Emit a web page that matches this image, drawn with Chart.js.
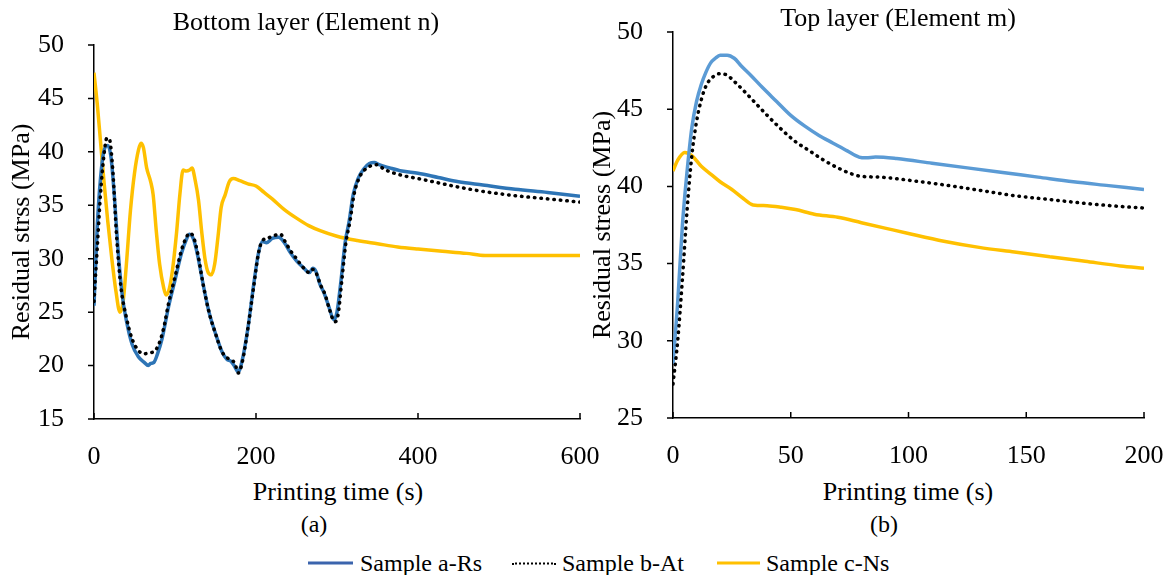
<!DOCTYPE html>
<html>
<head>
<meta charset="utf-8">
<script src="https://cdn.jsdelivr.net/npm/chart.js@4.4.1/dist/chart.umd.min.js"></script>
<style>
  body { margin: 0; background: #fff; font-family: "Liberation Serif", "Times New Roman", serif; color: #000; }
  #page { position: relative; width: 1170px; height: 575px; overflow: hidden; }
  .box { position: absolute; }
  .txt { position: absolute; white-space: nowrap; transform: translate(-50%, -50%); font-size: 26px; }
  .legend { position: absolute; top: 563px; transform: translateY(-50%); display: flex; align-items: center; font-size: 24px; white-space: nowrap; }
  .swatch { display: inline-block; height: 0; margin-right: 7px; }
</style>
</head>
<body>
<div id="page">
  <div class="box" style="left:0;top:0;width:600px;height:470px;"><canvas id="chartA" width="600" height="470"></canvas></div>
  <div class="box" style="left:579px;top:0;width:591px;height:470px;"><canvas id="chartB" width="591" height="470"></canvas></div>

  <div class="txt" style="left:306px;top:22px;">Bottom layer (Element n)</div>
  <div class="txt" style="left:898px;top:18px;">Top layer (Element m)</div>
  <div class="txt" style="left:338px;top:492px;">Printing time (s)</div>
  <div class="txt" style="left:908px;top:492px;">Printing time (s)</div>
  <div class="txt" style="left:314px;top:524px;font-size:24px;">(a)</div>
  <div class="txt" style="left:884px;top:524px;font-size:24px;">(b)</div>

  <div class="legend" style="left:308px;">
    <span class="swatch" style="border-top:3px solid #3B64AD;width:45px;"></span>Sample a-Rs
  </div>
  <div class="legend" style="left:512px;">
    <span class="swatch" style="border-top:2px dotted #000;width:44px;margin-right:6px;"></span>Sample b-At
  </div>
  <div class="legend" style="left:717px;">
    <span class="swatch" style="border-top:3px solid #FFC000;width:43px;margin-right:6px;"></span>Sample c-Ns
  </div>
</div>

<script>
// Bottom layer (Element n), printing time in s, stress in MPa
var bottomTimeA = [0, 4, 8, 12, 17, 21, 25, 30, 35, 40, 47, 55, 62, 67, 70, 74, 78, 84, 92, 100, 108, 114, 118, 123, 128, 135, 142, 150, 158, 164, 169, 173, 178, 183, 190, 197, 203, 208, 213, 220, 228, 235, 243, 250, 258, 266, 270, 274, 279, 284, 290, 296, 300, 305, 310, 315, 320, 326, 333, 340, 346, 352, 365, 380, 400, 425, 450, 480, 520, 560, 600];
var bottomStressA = [25.6, 33, 37.5, 40, 40.6, 39.5, 36, 30.5, 26.5, 24.2, 22, 20.8, 20.3, 20.0, 20.2, 20.3, 21, 22.5, 25.5, 28, 30.5, 31.8, 32.3, 31.8, 30.3, 27.5, 25, 23, 21.3, 20.6, 20.4, 20, 19.4, 20.5, 23.5, 27.5, 30.5, 31.6, 31.5, 31.9, 32, 31.5, 30.5, 29.8, 29.2, 28.7, 29.1, 28.8, 27.6, 26.8, 25.5, 24.3, 25, 28, 31.5, 33.5, 36, 37.5, 38.4, 38.9, 39, 38.8, 38.5, 38.2, 38.0, 37.6, 37.2, 36.9, 36.5, 36.2, 35.85];

var bottomTimeB = [0, 4, 8, 12, 16, 19, 23, 28, 33, 40, 47, 55, 62, 68, 74, 80, 86, 92, 100, 108, 114, 118, 123, 128, 135, 142, 150, 158, 165, 170, 174, 178, 183, 190, 197, 203, 208, 214, 220, 230, 236, 243, 250, 258, 266, 270, 274, 280, 285, 291, 297, 301, 306, 311, 316, 321, 327, 334, 342, 348, 360, 380, 400, 425, 450, 480, 520, 560, 600];
var bottomStressB = [26, 31, 36, 39.5, 41.3, 41.2, 38.5, 32, 27.5, 24.5, 22.5, 21.4, 21.1, 21.2, 21.3, 22, 23.5, 25.8, 28.3, 30.8, 32, 32.4, 32, 30.5, 27.5, 25, 23, 21.3, 20.7, 20.5, 20.2, 19.3, 20.3, 23.5, 27.3, 30.5, 31.7, 31.9, 32.1, 32.3, 31.6, 30.7, 30, 29.2, 28.7, 29, 28.7, 27.5, 26.7, 25.2, 24.1, 24.6, 28, 31.5, 33.5, 36, 37.5, 38.3, 38.7, 38.8, 38.3, 37.8, 37.5, 37.1, 36.7, 36.3, 35.9, 35.6, 35.3];

var bottomTimeC = [0, 4, 8, 12, 17, 22, 27, 32, 36, 40, 45, 50, 55, 58, 61, 65, 70, 73, 77, 81, 86, 89, 93, 97, 102, 106, 110, 114, 118, 121, 125, 129, 133, 137, 141, 145, 149, 153, 157, 162, 167, 172, 180, 190, 200, 210, 220, 235, 250, 265, 280, 300, 325, 350, 375, 400, 430, 460, 483, 520, 560, 600];
var bottomStressC = [47.4, 44.5, 41, 37.5, 33.5, 30, 27, 25, 26, 29.5, 34.5, 38, 40.2, 40.8, 40.4, 38.5, 37.2, 36, 32.5, 29.5, 27.3, 26.6, 27.2, 29, 32.5, 36, 38.3, 38.2, 38.3, 38.5, 37.3, 35.5, 32.5, 30, 28.7, 28.5, 29.5, 32, 34.8, 36, 37.2, 37.5, 37.3, 37.0, 36.8, 36.2, 35.6, 34.6, 33.8, 33.1, 32.6, 32.1, 31.7, 31.4, 31.1, 30.9, 30.7, 30.5, 30.3, 30.3, 30.3, 30.3];

// Top layer (Element m)
var topTimeA = [0, 2, 4, 6, 8, 10, 12, 14, 16, 18, 20, 23, 26, 29, 33, 38, 44, 50, 56, 62, 68, 74, 79, 82, 86, 95, 110, 125, 140, 155, 170, 185, 200];
var topStressA = [28.5, 32.5, 37.5, 41, 43.8, 45.5, 46.6, 47.4, 48, 48.3, 48.5, 48.5, 48.3, 47.8, 47.2, 46.4, 45.5, 44.6, 43.9, 43.3, 42.8, 42.3, 41.9, 41.85, 41.9, 41.8, 41.5, 41.2, 40.9, 40.6, 40.3, 40.05, 39.8];

var topTimeB = [0, 2, 4, 6, 8, 10, 12, 14, 17, 20, 23, 26, 30, 35, 40, 46, 52, 58, 64, 70, 76, 80, 88, 100, 115, 130, 145, 160, 175, 190, 200];
var topStressB = [27.2, 30, 34, 38.5, 42, 44.2, 45.6, 46.5, 47.1, 47.3, 47.2, 46.8, 46.2, 45.4, 44.6, 43.7, 42.9, 42.3, 41.7, 41.2, 40.8, 40.65, 40.6, 40.4, 40.1, 39.75, 39.4, 39.15, 38.9, 38.7, 38.6];

var topTimeC = [0, 2, 5, 8, 12, 16, 20, 25, 30, 34, 40, 46, 52, 60, 70, 80, 90, 100, 115, 130, 145, 160, 175, 190, 200];
var topStressC = [41.0, 41.7, 42.2, 42.0, 41.3, 40.8, 40.3, 39.8, 39.2, 38.8, 38.75, 38.65, 38.5, 38.2, 38.0, 37.65, 37.3, 36.95, 36.45, 36.05, 35.75, 35.45, 35.15, 34.85, 34.7];

var bottomYTicks = [15, 20, 25, 30, 35, 40, 45, 50];
var bottomXTicks = [0, 200, 400, 600];
var topYTicks = [25, 30, 35, 40, 45, 50];
var topXTicks = [0, 50, 100, 150, 200];

var serif = '"Liberation Serif", "Times New Roman", serif';

function pairUp(xs, ys) {
    return xs.map(function (x, i) { return { x: x, y: ys[i] }; });
}

// short tick marks: x ticks point up into the plot, y ticks point left
var tickMarks = {
    id: 'tickMarks',
    afterDraw: function (chart) {
        var ctx = chart.ctx;
        var xs = chart.scales.x, ys = chart.scales.y;
        ctx.save();
        ctx.strokeStyle = '#000';
        ctx.lineWidth = 1.5;
        ctx.beginPath();
        xs.ticks.forEach(function (t) {
            var px = xs.getPixelForValue(t.value);
            ctx.moveTo(px, xs.top);
            ctx.lineTo(px, xs.top - 6);
        });
        ys.ticks.forEach(function (t) {
            var py = ys.getPixelForValue(t.value);
            ctx.moveTo(ys.right - 6, py);
            ctx.lineTo(ys.right, py);
        });
        ctx.stroke();
        ctx.restore();
    }
};

function makeChart(id, cfg) {
    var ctx = document.getElementById(id).getContext('2d');
    return new Chart(ctx, {
        type: 'line',
        data: {
            datasets: [
                {
                    label: 'Sample b-At',
                    data: pairUp(cfg.timeB, cfg.stressB),
                    borderColor: '#000',
                    borderWidth: 3.5,
                    borderDash: [0.5, 6],
                    borderCapStyle: 'round',
                    pointRadius: 0,
                    cubicInterpolationMode: 'monotone',
                    fill: false
                },
                {
                    label: 'Sample a-Rs',
                    data: pairUp(cfg.timeA, cfg.stressA),
                    borderColor: cfg.blue,
                    borderWidth: 3.5,
                    pointRadius: 0,
                    cubicInterpolationMode: 'monotone',
                    fill: false
                },
                {
                    label: 'Sample c-Ns',
                    data: pairUp(cfg.timeC, cfg.stressC),
                    borderColor: '#FFC000',
                    borderWidth: 3.5,
                    pointRadius: 0,
                    cubicInterpolationMode: 'monotone',
                    fill: false
                }
            ]
        },
        options: {
            responsive: false,
            animation: false,
            events: [],
            layout: { padding: { top: cfg.padTop, right: cfg.padRight, left: 0, bottom: 0 } },
            plugins: { legend: { display: false }, tooltip: { enabled: false } },
            scales: {
                x: {
                    type: 'linear',
                    min: cfg.xTicks[0],
                    max: cfg.xTicks[cfg.xTicks.length - 1],
                    afterBuildTicks: function (s) { s.ticks = cfg.xTicks.map(function (v) { return { value: v }; }); },
                    afterFit: function (s) { s.height = cfg.xHeight; s.paddingLeft = 0; s.paddingRight = 0; },
                    grid: { display: false },
                    border: { display: true, color: '#000', width: 1.5 },
                    ticks: { color: '#000', padding: 15, maxRotation: 0, font: { family: serif, size: 26 } }
                },
                y: {
                    type: 'linear',
                    min: cfg.yTicks[0],
                    max: cfg.yTicks[cfg.yTicks.length - 1],
                    afterBuildTicks: function (s) { s.ticks = cfg.yTicks.map(function (v) { return { value: v }; }); },
                    afterFit: function (s) { s.width = 94; s.paddingTop = 0; s.paddingBottom = 0; },
                    grid: { display: false },
                    border: { display: true, color: '#000', width: 1.5 },
                    ticks: { color: '#000', padding: 22, font: { family: serif, size: 26 } },
                    title: {
                        display: true,
                        text: cfg.yTitle,
                        color: '#000',
                        padding: { top: cfg.titlePad, bottom: 0 },
                        font: { family: serif, size: 26 }
                    }
                }
            }
        },
        plugins: [tickMarks]
    });
}

makeChart('chartA', {
    timeA: bottomTimeA, stressA: bottomStressA,
    timeB: bottomTimeB, stressB: bottomStressB,
    timeC: bottomTimeC, stressC: bottomStressC,
    xTicks: bottomXTicks, yTicks: bottomYTicks,
    blue: '#2E75B6',
    yTitle: 'Residual strss (MPa)',
    padTop: 45, padRight: 20, xHeight: 51, titlePad: 7
});

makeChart('chartB', {
    timeA: topTimeA, stressA: topStressA,
    timeB: topTimeB, stressB: topStressB,
    timeC: topTimeC, stressC: topStressC,
    xTicks: topXTicks, yTicks: topYTicks,
    blue: '#5B9BD5',
    yTitle: 'Residual stress (MPa)',
    padTop: 32, padRight: 26, xHeight: 52, titlePad: 9
});
</script>
</body>
</html>
